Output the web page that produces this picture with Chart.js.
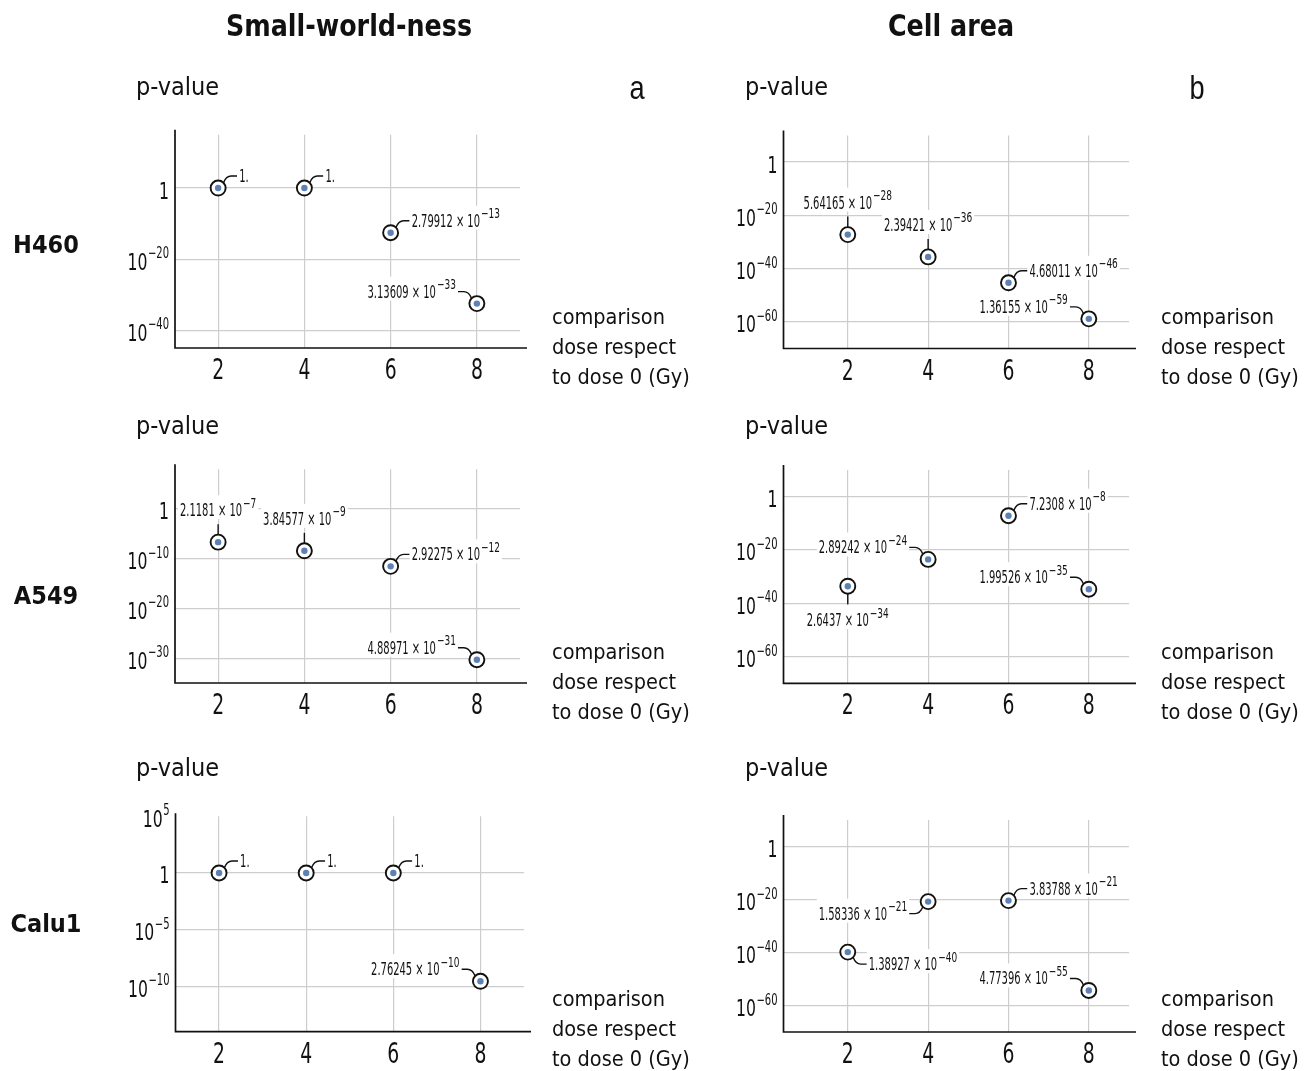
<!DOCTYPE html>
<html>
<head>
<meta charset="utf-8">
<script src="https://cdn.jsdelivr.net/npm/chart.js@4.4.1/dist/chart.umd.min.js"></script>
<style>
body{margin:0;background:#fff;width:1307px;height:1071px;position:relative;overflow:hidden}
canvas{position:absolute}
</style>
</head>
<body>
<canvas id="bg" width="1307" height="1071" style="left:0;top:0"></canvas>
<canvas id="a1"></canvas><canvas id="b1"></canvas>
<canvas id="a2"></canvas><canvas id="b2"></canvas>
<canvas id="a3"></canvas><canvas id="b3"></canvas>
<script>
// dose of each comparison (Gy)
const doses=[2,4,6,8];
const xTicks=[2,4,6,8];

// p-values, small-world-ness
const swH460=[1,1,2.79912e-13,3.13609e-33];
const swA549=[2.1181e-7,3.84577e-9,2.92275e-12,4.88971e-31];
const swCalu1=[1,1,1,2.76245e-10];
// p-values, cell area
const caH460=[5.64165e-28,2.39421e-36,4.68011e-46,1.36155e-59];
const caA549=[2.6437e-34,2.89242e-24,7.2308e-8,1.99526e-35];
const caCalu1=[1.38927e-40,1.58336e-21,3.83788e-21,4.77396e-55];

// y tick values
const ySwH460=[1e-40,1e-20,1];
const ySwA549=[1e-30,1e-20,1e-10,1];
const ySwCalu1=[1e-10,1e-5,1,1e5];
const yCell=[1e-60,1e-40,1e-20,1];

// where each value label sits
const posSwH460=['ne','ne','ne','nw'];
const posSwA549=['n','n','ne','nw'];
const posSwCalu1=['ne','ne','ne','nw'];
const posCaH460=['n','n','ne','nw'];
const posCaA549=['s','nw','ne','nw'];
const posCaCalu1=['se','sw','ne','nw'];

const rowNames=['H460','A549','Calu1'];
const xTitle=['comparison','dose respect','to dose 0 (Gy)'];

const F="'DejaVu Sans Condensed','DejaVu Sans',sans-serif";
const INK='#111';

function tw(ctx,s,size,sx,weight,fam){
  ctx.save();ctx.font=(weight||'')+' '+size+'px '+(fam||F);
  const w=ctx.measureText(s).width*sx;ctx.restore();return w;
}
function text(ctx,s,x,y,size,sx,align,weight,fam){
  const w=tw(ctx,s,size,sx,weight,fam);
  const x0=align==='right'?x-w:align==='center'?x-w/2:x;
  ctx.save();
  ctx.font=(weight||'')+' '+size+'px '+(fam||F);
  ctx.textAlign='left';ctx.textBaseline='alphabetic';
  ctx.translate(x0,y);ctx.scale(sx,1);ctx.fillText(s,0,0);
  ctx.restore();
  return w;
}

function sciParts(v){
  if(v===1)return['1.',''];
  const [m,e]=v.toExponential().split('e');
  return[m+' \u00d7 10',String(+e).replace('-','\u2212')];
}

const LAB={size:17,sx:0.65,sup:13.5,supSx:0.74,rise:8.5};
function drawSci(ctx,p,x,base,align){
  const w1=tw(ctx,p[0],LAB.size,LAB.sx);
  const w=w1+(p[1]?1+tw(ctx,p[1],LAB.sup,LAB.supSx):0);
  const x0=align==='right'?x-w:align==='center'?x-w/2:x;
  ctx.fillStyle='#fff';ctx.fillRect(x0-2,base-21,w+4,24);
  ctx.fillStyle=INK;
  text(ctx,p[0],x0,base,LAB.size,LAB.sx,'left');
  if(p[1])text(ctx,p[1],x0+w1+1,base-LAB.rise,LAB.sup,LAB.supSx,'left');
}

function callout(ctx,cx,cy,pos,p){
  const R=7.5,c=0.72;
  ctx.save();
  ctx.strokeStyle=INK;ctx.lineWidth=1.4;
  ctx.beginPath();
  if(pos==='n'||pos==='s'){
    const v=pos==='n'?-1:1;
    ctx.moveTo(cx,cy+v*R);ctx.lineTo(cx,cy+v*18);ctx.stroke();
    drawSci(ctx,p,cx,pos==='n'?cy-26:cy+40,'center');
  }else{
    const h=pos[1]==='e'?1:-1,v=pos[0]==='n'?-1:1;
    ctx.moveTo(cx+h*R*c,cy+v*R*c);
    ctx.quadraticCurveTo(cx+h*8,cy+v*12,cx+h*13,cy+v*12);
    ctx.lineTo(cx+h*19,cy+v*12);ctx.stroke();
    drawSci(ctx,p,cx+h*21,cy+v*12+6,h>0?'left':'right');
  }
  ctx.restore();
}

const decor={
  id:'decor',
  beforeDatasetsDraw(chart){
    const ctx=chart.ctx,cfg=chart.options.plugins.decor;
    const xs=chart.scales.x,ys=chart.scales.y;
    cfg.vals.forEach((v,i)=>{
      callout(ctx,xs.getPixelForValue(doses[i]),ys.getPixelForValue(v),cfg.pos[i],sciParts(v));
    });
  },
  afterDraw(chart){
    const ctx=chart.ctx,cfg=chart.options.plugins.decor,a=chart.chartArea;
    const xs=chart.scales.x,ys=chart.scales.y;
    ctx.save();
    ctx.strokeStyle=INK;ctx.lineWidth=1.7;
    ctx.beginPath();
    ctx.moveTo(a.left,a.top-cfg.axisTop);ctx.lineTo(a.left,a.bottom);
    ctx.lineTo(a.right+7,a.bottom);ctx.stroke();
    ctx.fillStyle=INK;
    xTicks.forEach(t=>text(ctx,String(t),xs.getPixelForValue(t),a.bottom+31,29,0.72,'center'));
    cfg.yTicks.forEach(t=>{
      const y=ys.getPixelForValue(t),e=Math.round(Math.log10(t));
      if(e===0){text(ctx,'1',a.left-6,y+10.5,23.5,0.74,'right');return;}
      const sup=String(e).replace('-','\u2212');
      const ws=tw(ctx,sup,15,0.74);
      text(ctx,sup,a.left-6,y-1,15,0.74,'right');
      text(ctx,'10',a.left-6-ws-0.5,y+10.5,23.5,0.74,'right');
    });
    ctx.restore();
  }
};

const panels=[
  {id:'a1',vals:swH460,pos:posSwH460,yTicks:ySwH460,yMin:1e-45,yMax:1e15,xMin:1,xMax:9,box:[100,100,450,290],area:[175,134.75,520,348],axisTop:5},
  {id:'b1',vals:caH460,pos:posCaH460,yTicks:yCell,yMin:1e-70,yMax:1e10,xMin:0.4,xMax:9,box:[720,100,430,290],area:[783.5,135.4,1129,348.5],axisTop:5},
  {id:'a2',vals:swA549,pos:posSwA549,yTicks:ySwA549,yMin:1e-35,yMax:1e8,xMin:1,xMax:9,box:[100,440,450,290],area:[175,469.2,520,683],axisTop:5},
  {id:'b2',vals:caA549,pos:posCaA549,yTicks:yCell,yMin:1e-70,yMax:1e10,xMin:0.4,xMax:9,box:[720,440,430,290],area:[783.5,470,1129,683.3],axisTop:5},
  {id:'a3',vals:swCalu1,pos:posSwCalu1,yTicks:ySwCalu1,yMin:1e-14,yMax:1e5,xMin:1,xMax:9,box:[100,785,450,286],area:[175.5,816.3,524,1031.6],axisTop:3},
  {id:'b3',vals:caCalu1,pos:posCaCalu1,yTicks:yCell,yMin:1e-70,yMax:1e10,xMin:0.4,xMax:9,box:[720,785,430,286],area:[783.5,820,1129,1032],axisTop:5}
];

panels.forEach(p=>{
  const cv=document.getElementById(p.id);
  const [L,T,W,H]=p.box,[al,at,ar,ab]=p.area;
  cv.width=W;cv.height=H;cv.style.left=L+'px';cv.style.top=T+'px';
  const pts=doses.map((x,i)=>({x,y:p.vals[i]}));
  const gridColor=c=>(c.tick&&c.tick.value>=c.scale.max)?'rgba(0,0,0,0)':'#cdcdcd';
  new Chart(cv,{
    type:'scatter',
    data:{datasets:[
      {data:pts,order:2,pointStyle:'circle',pointRadius:7.5,pointBorderWidth:1.9,pointBorderColor:INK,pointBackgroundColor:'#fff',clip:false},
      {data:pts,order:1,pointStyle:'circle',pointRadius:3.2,pointBorderWidth:0,pointBackgroundColor:'#5e81b5',clip:false}
    ]},
    options:{
      responsive:false,animation:false,devicePixelRatio:1,events:[],
      layout:{autoPadding:false,padding:{left:al-L,top:at-T,right:L+W-ar,bottom:T+H-ab}},
      scales:{
        x:{type:'linear',min:p.xMin,max:p.xMax,
           afterBuildTicks:s=>{s.ticks=xTicks.map(v=>({value:v}));},
           ticks:{display:false},border:{display:false},
           grid:{drawTicks:false,color:'#cdcdcd',lineWidth:1.2}},
        y:{type:'logarithmic',min:p.yMin,max:p.yMax,
           afterBuildTicks:s=>{s.ticks=p.yTicks.map(v=>({value:v}));},
           ticks:{display:false},border:{display:false},
           grid:{drawTicks:false,color:gridColor,lineWidth:1.2}}
      },
      plugins:{legend:{display:false},tooltip:{enabled:false},
        decor:{vals:p.vals,pos:p.pos,yTicks:p.yTicks,axisTop:p.axisTop}}
    },
    plugins:[decor]
  });
});

// page texts
const bg=document.getElementById('bg').getContext('2d');
bg.fillStyle=INK;
text(bg,'Small-world-ness',349,36,31,0.91,'center','bold');
text(bg,'Cell area',951,36,31,0.91,'center','bold');
text(bg,'a',637,99,34,0.8,'center','',"'Liberation Sans',Arial,sans-serif");
text(bg,'b',1197,99,34,0.8,'center','',"'Liberation Sans',Arial,sans-serif");
[95,434,776].forEach(y=>{text(bg,'p-value',136,y,25,1,'left');text(bg,'p-value',745,y,25,1,'left');});
[253,604,932].forEach((y,i)=>text(bg,rowNames[i],46,y,25,1,'center','bold'));
[324,659,1006].forEach(y=>{
  xTitle.forEach((s,k)=>{text(bg,s,552,y+30*k,21.5,1,'left');text(bg,s,1161,y+30*k,21.5,1,'left');});
});
</script>
</body>
</html>
